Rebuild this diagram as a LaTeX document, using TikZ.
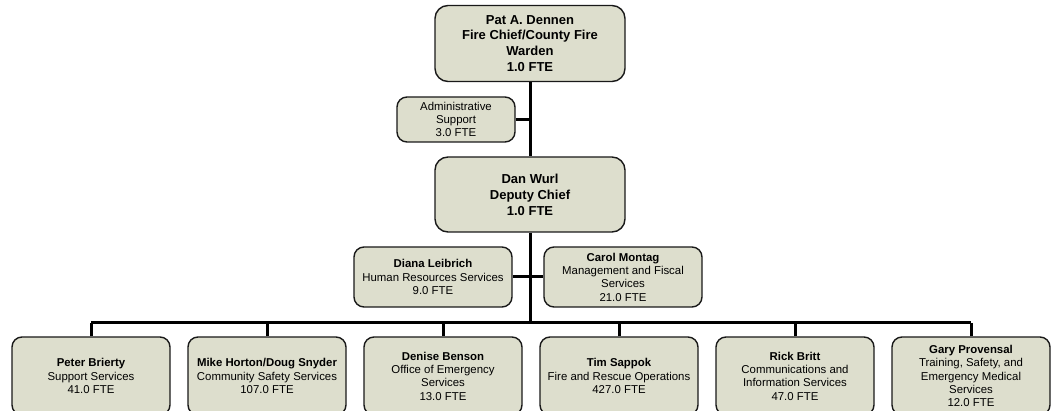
\documentclass[tikz,border=0pt]{standalone}
\usepackage{fontspec}
\setmainfont{Liberation Sans}
\usepackage{tikz}
\usetikzlibrary{calc}
\definecolor{boxfill}{RGB}{221,222,205}
\newcommand{\UnitWidth}{158pt}
\newcommand{\UnitStep}{176}
\tikzset{Box/.style={
    rectangle,
    rounded corners=10pt,
    inner sep=0pt,
    line width=1.4pt,
    draw=black!90,
    fill=boxfill,
    align=center,
    font={\fontsize{11.4pt}{13.3pt}\selectfont}
    },
    Head/.style={
    Box,
    rounded corners=13pt,
    minimum width=190pt,
    minimum height=76pt,
    font={\fontsize{13pt}{15.9pt}\selectfont\bfseries}
    },
    Unit/.style={
    Box,
    minimum width=\UnitWidth,
    minimum height=60pt
    },
    Link/.style={line width=3pt, draw=black}
}

\begin{document}
\begin{tikzpicture}[x=1pt,y=-1pt]
\useasboundingbox (0,0) rectangle (1052,411);
\clip (0,0) rectangle (1052,411);
% chief and deputy
\node [Head] (chief) at (530,43.5) {Pat A. Dennen\\Fire Chief/County Fire\\Warden\\1.0 FTE};
\node [Box, minimum width=118pt, minimum height=45pt] (admin) at (456,119.5) {Administrative\\Support\\3.0 FTE};
\node [Head, minimum height=75pt] (deputy) at (530,194.5) {Dan Wurl\\Deputy Chief\\1.0 FTE};
% staff units
\node [Unit] (hr) at (433,277) {\textbf{Diana Leibrich}\\Human Resources Services\\9.0 FTE};
\node [Unit] (fiscal) at (623,277) {\textbf{Carol Montag}\\Management and Fiscal\\Services\\21.0 FTE};
\coordinate (bus) at (530,323);
% divisions
\foreach \col/\txt in {
  1/{\textbf{Peter Brierty}\\Support Services\\41.0 FTE},
  2/{\textbf{Mike Horton/Doug Snyder}\\Community Safety Services\\107.0 FTE},
  3/{\textbf{Denise Benson}\\Office of Emergency\\Services\\13.0 FTE},
  4/{\textbf{Tim Sappok}\\Fire and Rescue Operations\\427.0 FTE},
  5/{\textbf{Rick Britt}\\Communications and\\Information Services\\47.0 FTE},
  6/{\textbf{Gary Provensal}\\Training, Safety, and\\Emergency Medical\\Services\\12.0 FTE}} {
\node [Unit, minimum height=78pt] (div\col) at ({91+(\col-1)*\UnitStep},376) {\txt};
\draw [Link] (div\col.north) -- (div\col.north |- bus);
}
% connectors
\draw [Link] (chief.south) -- (deputy.north);
\draw [Link] (admin.east) -- (admin.east -| chief.south);
\draw [Link] (deputy.south) -- (bus);
\draw [Link] (hr.east) -- (fiscal.west);
\draw [Link] (div1.north |- bus) -- (div6.north |- bus);
\end{tikzpicture}
\end{document}
